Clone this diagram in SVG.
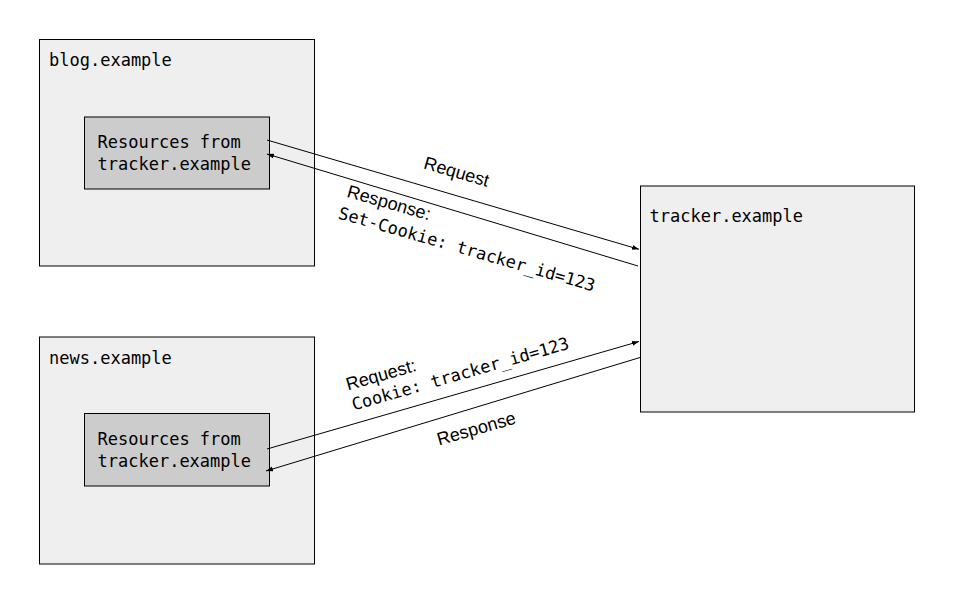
<svg xmlns="http://www.w3.org/2000/svg" width="954" height="603" viewBox="0 0 954 603">
  <style>
    .outer { fill: #efefef; stroke: #000; stroke-width: 1; }
    .inner { fill: #cccccc; stroke: #000; stroke-width: 1; }
    .mono { font-family: "DejaVu Sans Mono", "Liberation Mono", monospace; font-size: 17px; fill: #000; }
    .sans { font-family: "Liberation Sans", Arial, sans-serif; font-size: 18px; fill: #000; }
    .conn { stroke: #000; stroke-width: 1; fill: none; marker-end: url(#arrow); }
  </style>
  <defs>
    <marker id="arrow" markerUnits="userSpaceOnUse" markerWidth="8" markerHeight="6" refX="7" refY="2.5" orient="auto">
      <path d="M0,0 L7,2.5 L0,5 z" fill="#000"/>
    </marker>
  </defs>
  <rect width="954" height="603" fill="#fff"/>

  <g id="blog">
    <rect class="outer" x="39.5" y="39.5" width="275" height="226.5"/>
    <text class="mono" x="49" y="66">blog.example</text>
  </g>
  <g id="blog-resources">
    <rect class="inner" x="84.5" y="117" width="185" height="72"/>
    <text class="mono" x="97.5" y="147.5">Resources from</text>
    <text class="mono" x="97.5" y="169.5">tracker.example</text>
  </g>

  <g id="news">
    <rect class="outer" x="39.5" y="337" width="275" height="227"/>
    <text class="mono" x="49" y="363.5">news.example</text>
  </g>
  <g id="news-resources">
    <rect class="inner" x="84.5" y="413.5" width="185" height="72.5"/>
    <text class="mono" x="97.5" y="445">Resources from</text>
    <text class="mono" x="97.5" y="467">tracker.example</text>
  </g>

  <g id="tracker">
    <rect class="outer" x="640.5" y="186" width="274" height="226"/>
    <text class="mono" x="649.5" y="222">tracker.example</text>
  </g>

  <g id="connectors">
    <line class="conn" x1="267" y1="140" x2="639" y2="249.3"/>
    <line class="conn" x1="638" y1="266" x2="267" y2="154"/>
    <line class="conn" x1="267" y1="449" x2="639" y2="341.5"/>
    <line class="conn" x1="640" y1="357.5" x2="266" y2="471"/>

    <text class="sans" transform="translate(422.7,168.3) rotate(16)">Request</text>
    <g transform="translate(346,196.7) rotate(16)">
      <text class="sans" x="0" y="0">Response:</text>
      <text class="mono" x="-2.4" y="23">Set-Cookie: tracker_id=123</text>
    </g>
    <g transform="translate(348,390.5) rotate(-16)">
      <text class="sans" x="0" y="0">Request:</text>
      <text class="mono" x="0" y="20.8">Cookie: tracker_id=123</text>
    </g>
    <text class="sans" transform="translate(439,445.5) rotate(-16)">Response</text>
  </g>
</svg>
